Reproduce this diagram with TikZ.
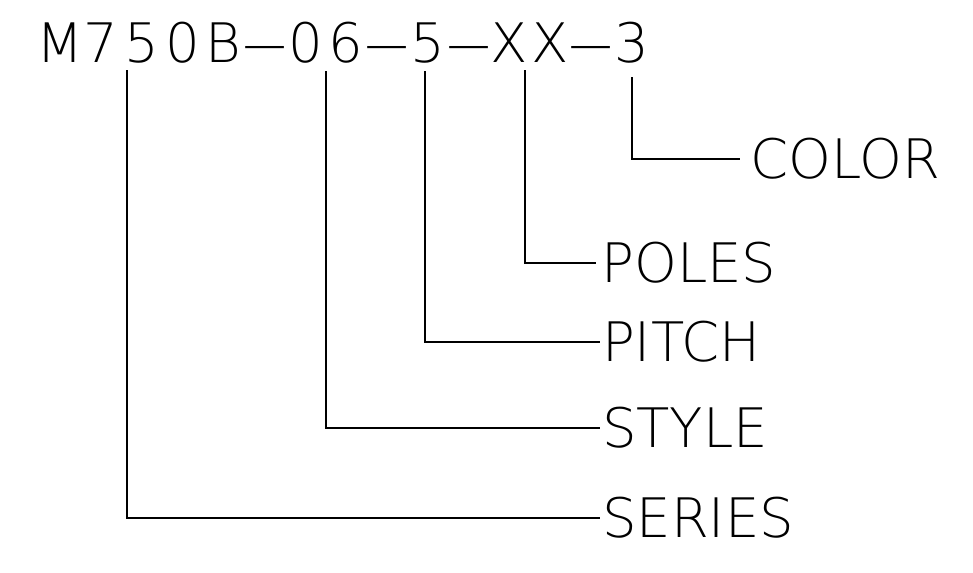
\documentclass[tikz,border=0pt]{standalone}
\usepackage{fontspec}
\usepackage{graphicx}
% thin sans face for the CAD lettering, first one found
\IfFontExistsTF{DejaVu Sans ExtraLight}{\def\cadname{DejaVu Sans ExtraLight}}{%
  \IfFontExistsTF{Fira Sans Light}{\def\cadname{Fira Sans Light}}{%
    \IfFontExistsTF{Lato Light}{\def\cadname{Lato Light}}{%
      \def\cadname{Liberation Sans}}}}
\newfontfamily\cadfont{\cadname}
% part number set on a fixed pitch, long dashes as in the drawing
\ExplSyntaxOn
\NewDocumentCommand\cadmono{m}{
  \tl_map_inline:nn {#1}
    { \makebox[0.817cm]{ \str_if_eq:nnTF {##1} {-} { \scalebox{2.7}[1]{-} } {##1} } }
}
\ExplSyntaxOff
\tikzset{
  partno/.style={anchor=base west,inner sep=0pt,font=\cadfont\fontsize{31}{31}\selectfont},
  field/.style={anchor=west,inner xsep=1pt,inner ysep=0pt,font=\cadfont\fontsize{31}{31}\selectfont},
  leader/.style={line width=0.04cm}
}
\begin{document}
\begin{tikzpicture}[x=0.02cm,y=-0.02cm]
\useasboundingbox (0,0) rectangle (973,572);
  \node[partno] (code) at (39.6,62) {\cadmono{M750B-06-5-XX-3}};

  \coordinate (cseries) at (127,70);
  \coordinate (cstyle) at (326,71);
  \coordinate (cpitch) at (425,71);
  \coordinate (cpoles) at (525,70);
  \coordinate (ccolor) at (632,77);

  \node[field,inner xsep=0.2cm] (color) at (740,159) {COLOR};
  \node[field,inner xsep=0.1cm] (poles) at (596,263) {POLES};
  \node[field] (pitch) at (600,342) {PITCH};
  \node[field] (style) at (600,428) {STYLE};
  \node[field] (series) at (600,518) {SERIES};

\draw [leader] (ccolor) |- (color.west);
\draw [leader] (cpoles) |- (poles.west);
\draw [leader] (cpitch) |- (pitch.west);
\draw [leader] (cstyle) |- (style.west);
\draw [leader] (cseries) |- (series.west);
\end{tikzpicture}
\end{document}
